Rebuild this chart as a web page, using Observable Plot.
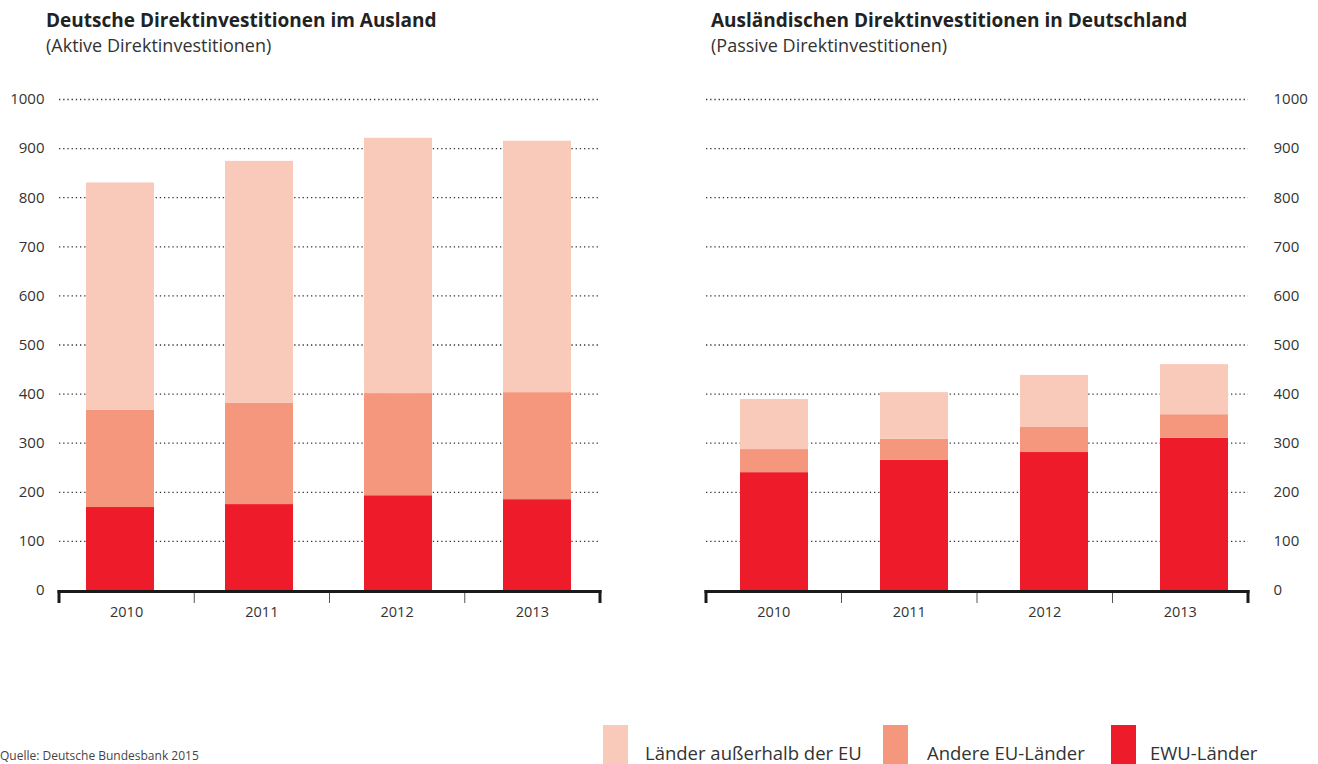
<!DOCTYPE html>
<html><head><meta charset="utf-8">
<script src="https://cdn.jsdelivr.net/npm/d3@7"></script>
<script src="https://cdn.jsdelivr.net/npm/@observablehq/plot@0.6"></script>
<style>
body{margin:0;background:#fff;}
#root{position:relative;width:1318px;height:764px;overflow:hidden;font-family:"Open Sans",sans-serif;color:#222;}
.abs{position:absolute;white-space:nowrap;line-height:1;}
.title{font-weight:700;font-size:19px;}
.sub{font-size:18px;color:#333;}
.plot{position:absolute;top:0;}
.sw{position:absolute;top:725px;width:25px;height:50px;}
.lt{font-size:18.5px;color:#333;}
.src{font-size:12px;color:#444;}
</style></head><body><div id="root"></div>
<script>
const years = ["2010", "2011", "2012", "2013"];
const seriesNames = ["EWU-Länder", "Andere EU-Länder", "Länder außerhalb der EU"];
const legendOrder = ["Länder außerhalb der EU", "Andere EU-Länder", "EWU-Länder"];
const seriesColors = ["#EE1C2B", "#F5977D", "#F9C9B9"];
// Aktive Direktinvestitionen (Deutsche Direktinvestitionen im Ausland)
const aktivEWU = [169, 175, 193, 185];
const aktivAndereEU = [198, 206, 208, 218];
const aktivAusserhalb = [463, 493, 520, 512];
// Passive Direktinvestitionen (Ausländische Direktinvestitionen in Deutschland)
const passivEWU = [240, 265, 281, 310];
const passivAndereEU = [47, 43, 51, 48];
const passivAusserhalb = [102, 95, 106, 102];
const yTicks = [0, 100, 200, 300, 400, 500, 600, 700, 800, 900, 1000];

const root = document.getElementById("root");

function rowsOf(ewu, andere, aus) {
  const rows = [];
  years.forEach((y, i) => {
    rows.push({year: y, series: seriesNames[0], value: ewu[i]});
    rows.push({year: y, series: seriesNames[1], value: andere[i]});
    rows.push({year: y, series: seriesNames[2], value: aus[i]});
  });
  return rows;
}

// Category axis: thick base line, section separators, labels centred in each section
function baseAxis(index, scales, values, dim) {
  const g = d3.create("svg:g");
  const a = dim.marginLeft, b = dim.width - dim.marginRight;
  const step = (b - a) / years.length;
  const y0 = scales.y(0);
  for (let i = 0; i <= years.length; i++) {
    const bx = a + i * step;
    const end = i === 0 || i === years.length;
    g.append("line").attr("x1", bx).attr("x2", bx).attr("y1", y0).attr("y2", y0 + 13)
      .attr("stroke", end ? "#1a1a1a" : "#555").attr("stroke-width", end ? 3 : 1);
  }
  g.append("line").attr("x1", a - 1.5).attr("x2", b + 1.5)
    .attr("y1", y0 + 1.5).attr("y2", y0 + 1.5).attr("stroke", "#1a1a1a").attr("stroke-width", 3);
  years.forEach((yr, i) => {
    g.append("text").attr("x", a + (i + 0.5) * step).attr("y", y0 + 27)
      .attr("text-anchor", "middle").attr("fill", "#333").attr("font-size", 14.5).text(yr);
  });
  return g.node();
}

function chart(rows, left) {
  return Plot.plot({
    width: 659, height: 640,
    marginTop: 99, marginBottom: 50,
    marginLeft: left ? 59 : 47, marginRight: left ? 59 : 70,
    style: {fontFamily: "Open Sans, sans-serif", fontSize: "14.5px", color: "#333", background: "transparent", overflow: "visible"},
    x: {domain: years, paddingInner: 0.514, paddingOuter: 0.19, align: left ? 0.48 : 0.63, axis: null},
    y: {domain: [0, 1000], axis: null},
    color: {domain: seriesNames, range: seriesColors},
    marks: [
      Plot.ruleY(yTicks.filter(d => d > 0), {stroke: "#333", strokeWidth: 1.3, strokeDasharray: "1.3,2.9"}),
      Plot.barY(rows, {x: "year", y: "value", fill: "series", order: seriesNames}),
      Plot.axisY(yTicks, {anchor: left ? "left" : "right", label: null, tickSize: 0, tickPadding: left ? 15 : 25, tickFormat: d => String(d), fontSize: 15, fill: "#333"}),
      baseAxis
    ]
  });
}

function addText(cls, txt, left, top) {
  const d = document.createElement("div");
  d.className = "abs " + cls; d.textContent = txt;
  d.style.left = left + "px"; d.style.top = top + "px";
  root.appendChild(d); return d;
}

const p1 = chart(rowsOf(aktivEWU, aktivAndereEU, aktivAusserhalb), true);
p1.classList.add("plot"); p1.style.left = "0px"; root.appendChild(p1);
const p2 = chart(rowsOf(passivEWU, passivAndereEU, passivAusserhalb), false);
p2.classList.add("plot"); p2.style.left = "659px"; root.appendChild(p2);

addText("title", "Deutsche Direktinvestitionen im Ausland", 46, 11);
addText("sub", "(Aktive Direktinvestitionen)", 46, 36);
addText("title", "Ausländischen Direktinvestitionen in Deutschland", 711, 11);
addText("sub", "(Passive Direktinvestitionen)", 711, 36);

const swX = [603, 883, 1111];
const txtX = [645, 927, 1150];
legendOrder.forEach((name, i) => {
  const s = document.createElement("div");
  s.className = "sw"; s.style.left = swX[i] + "px";
  s.style.background = seriesColors[seriesNames.indexOf(name)];
  root.appendChild(s);
  addText("lt", name, txtX[i], 744);
});
addText("src", "Quelle: Deutsche Bundesbank 2015", 0, 750);
</script>
</body></html>
